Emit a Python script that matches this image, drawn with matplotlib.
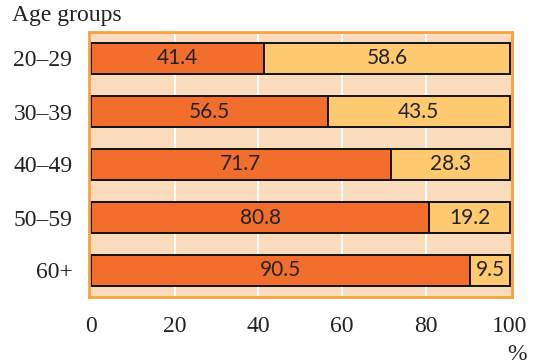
import matplotlib.pyplot as plt

age_groups = ["20\u201329", "30\u201339", "40\u201349", "50\u201359", "60+"]
share_a = [41.4, 56.5, 71.7, 80.8, 90.5]
share_b = [58.6, 43.5, 28.3, 19.2, 9.5]
ticks = [0, 20, 40, 60, 80, 100]

plt.rcParams['font.family'] = ['Liberation Serif', 'DejaVu Serif']
fs = 17
ink = '#222222'
value_font = dict(family=['Lato', 'DejaVu Sans'], fontsize=15, color=ink)

fig = plt.figure(figsize=(5.38, 3.64), dpi=100)
ax = fig.add_axes([89 / 538, 1 - 297 / 364, 423 / 538, 265 / 364])

ax.set_facecolor('#FADBBB')
for x in ticks[1:-1]:
    ax.axvline(x, color='white', lw=1.5, zorder=1)

ypos = list(range(len(age_groups)))
ax.barh(ypos, share_a, height=0.6, color='#F26E2D', edgecolor='#111111', lw=1.4, zorder=2)
ax.barh(ypos, share_b, left=share_a, height=0.6, color='#FEC96F', edgecolor='#111111', lw=1.4, zorder=2)

for y, a, b in zip(ypos, share_a, share_b):
    ax.text(a / 2, y, f"{a}", ha='center', va='center', zorder=3, **value_font)
    ax.text(a + b / 2, y, f"{b}", ha='center', va='center', zorder=3, **value_font)

ax.set_xlim(-0.4, 100.5)
ax.set_ylim(4.5, -0.5)
ax.set_yticks(ypos)
ax.set_yticklabels(age_groups, fontsize=fs, color=ink)
ax.set_xticks(ticks)
ax.set_xticklabels([str(t) for t in ticks], fontsize=fs, color=ink)
ax.tick_params(axis='x', length=0, pad=14)
ax.tick_params(axis='y', length=0, pad=12)
for s in ax.spines.values():
    s.set_color('#F7A23C')
    s.set_linewidth(2)

fig.text(12 / 538, 1 - 16 / 364, "Age groups", fontsize=fs, color=ink, va='center')
fig.text(517 / 538, 1 - 354 / 364, "%", fontsize=fs, color=ink, ha='center', va='center')

fig.savefig("out.png", dpi=100)
